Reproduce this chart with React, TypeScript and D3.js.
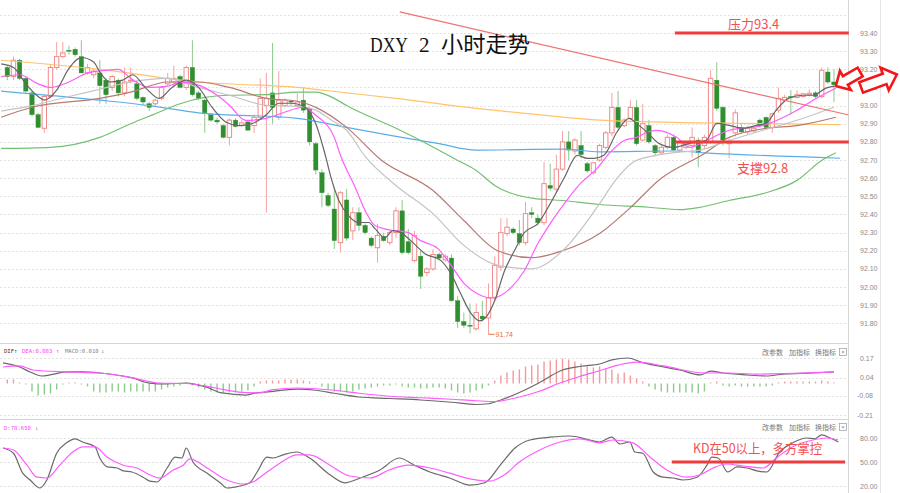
import React from "react";
import * as d3 from "d3";

// ---------- candle data (2h DXY) ----------
const openP = [93.21,93.16,93.25,93.15,93.07,92.95,92.875,93.05,93.21,93.27,93.305,93.31,93.27,93.18,93.17,93.18,93.14,93.10,93.14,93.07,93.135,93.12,93.045,93.01,93.01,93.04,93.12,93.13,93.16,93.10,93.21,93.07,93.03,92.95,92.92,92.89,92.825,92.92,92.89,92.91,92.89,92.935,93.00,93.07,92.935,93.00,93.025,93.00,93.03,92.985,92.79,92.63,92.505,92.43,92.245,92.48,92.31,92.41,92.34,92.27,92.217,92.28,92.245,92.30,92.42,92.25,92.146,92.17,92.08,92.10,92.18,92.15,92.16,91.925,91.81,91.79,91.77,91.84,91.83,91.94,92.11,92.295,92.32,92.295,92.245,92.41,92.38,92.355,92.56,92.54,92.65,92.80,92.75,92.78,92.68,92.63,92.70,92.77,92.85,92.99,92.89,92.93,92.99,92.81,92.89,92.78,92.74,92.77,92.825,92.755,92.77,92.78,92.81,92.78,92.80,93.14,92.99,92.79,92.85,92.88,92.855,92.86,92.92,92.935,92.88,92.975,93.03,93.05,93.045,93.05,93.06,93.07,93.05,93.185,93.13];
const highP = [93.22,93.27,93.26,93.16,93.08,92.96,93.06,93.23,93.35,93.35,93.33,93.32,93.36,93.23,93.20,93.25,93.15,93.17,93.15,93.21,93.21,93.14,93.05,93.02,93.04,93.11,93.18,93.22,93.17,93.22,93.36,93.08,93.04,92.96,92.935,92.90,92.93,92.93,92.92,92.92,92.95,93.15,93.18,93.345,93.19,93.04,93.03,93.07,93.10,92.99,92.80,92.65,92.52,92.55,92.53,92.54,92.44,92.44,92.35,92.28,92.35,92.30,92.31,92.44,92.48,92.32,92.31,92.20,92.11,92.21,92.19,92.18,92.18,91.95,91.86,91.91,91.91,91.925,92.02,92.17,92.38,92.38,92.33,92.37,92.47,92.44,92.40,92.69,92.68,92.73,92.86,92.86,92.82,92.86,92.69,92.69,92.79,92.86,93.07,93.08,92.93,93.03,93.03,93.01,92.92,92.79,92.78,92.84,92.84,92.81,92.80,92.88,92.825,92.84,93.195,93.24,93.00,92.82,92.98,92.90,92.89,92.88,92.93,92.94,92.96,93.10,93.06,93.085,93.085,93.07,93.09,93.08,93.21,93.21,93.20];
const lowP = [93.14,93.14,93.14,93.07,92.94,92.875,92.85,93.04,93.20,93.26,93.28,93.27,93.18,93.17,93.15,93.01,93.01,93.08,93.05,93.05,93.12,93.03,93.00,92.97,93.00,93.03,93.11,93.10,93.10,93.085,93.05,93.03,92.85,92.91,92.90,92.82,92.78,92.88,92.88,92.86,92.85,92.93,92.41,92.90,92.92,92.99,93.00,92.99,92.96,92.78,92.62,92.44,92.44,92.21,92.19,92.255,92.26,92.31,92.29,92.22,92.135,92.25,92.23,92.27,92.18,92.18,92.135,91.99,92.06,92.09,92.15,92.14,91.92,91.775,91.775,91.745,91.76,91.81,91.74,91.925,92.09,92.28,92.29,92.23,92.23,92.38,92.34,92.34,92.53,92.52,92.64,92.70,92.73,92.71,92.63,92.62,92.69,92.76,92.83,92.86,92.88,92.92,92.78,92.80,92.79,92.72,92.73,92.76,92.75,92.74,92.76,92.715,92.66,92.76,92.79,92.97,92.78,92.71,92.83,92.85,92.84,92.85,92.88,92.87,92.85,92.96,93.02,92.95,93.04,93.045,93.05,93.04,93.04,93.12,93.02];
const closeP = [93.16,93.25,93.15,93.08,92.95,92.88,93.05,93.21,93.27,93.29,93.30,93.28,93.18,93.21,93.19,93.11,93.06,93.16,93.07,93.13,93.14,93.04,93.02,92.99,93.03,93.10,93.15,93.15,93.10,93.21,93.06,93.04,92.96,92.92,92.91,92.825,92.92,92.885,92.905,92.865,92.935,93.04,93.04,92.99,93.03,93.03,93.02,93.02,92.975,92.80,92.645,92.52,92.45,92.256,92.52,92.27,92.41,92.34,92.30,92.23,92.284,92.256,92.30,92.42,92.19,92.19,92.284,92.06,92.10,92.18,92.16,92.17,91.925,91.81,91.79,91.785,91.86,91.825,91.94,92.12,92.30,92.33,92.30,92.245,92.405,92.40,92.355,92.57,92.545,92.65,92.80,92.755,92.81,92.73,92.64,92.685,92.78,92.85,92.99,92.88,92.92,92.99,92.79,92.90,92.80,92.74,92.77,92.825,92.755,92.80,92.79,92.825,92.74,92.825,93.15,92.985,92.81,92.80,92.96,92.855,92.875,92.875,92.89,92.88,92.955,93.04,93.045,93.045,93.06,93.065,93.068,93.05,93.195,93.13,93.115];

// ---------- moving averages, read at [candle index, price] ----------
const ma5: [number, number][] = [[-1,93.23],[1,93.21],[3,93.12],[5,93.05],[6,93.03],[8,93.085],[10,93.205],[12,93.265],[14,93.24],[15,93.185],[16.6,93.13],[18.7,93.14],[20.3,93.17],[22.5,93.095],[24.6,93.04],[26.7,93.1],[29,93.14],[31,93.1],[33.2,92.99],[35.4,92.91],[37.5,92.89],[39.6,92.9],[41.9,92.947],[44,93.013],[46,93.013],[48.3,92.99],[50,92.9],[51.6,92.72],[52.5,92.6],[53.7,92.48],[55.3,92.394],[56.9,92.356],[58.6,92.356],[59.6,92.322],[61.2,92.273],[62.5,92.311],[63.8,92.3],[65.4,92.256],[67.7,92.184],[70.3,92.146],[71.9,92.074],[73.5,91.963],[75.1,91.858],[76.6,91.814],[77.5,91.831],[79,91.925],[80.6,92.09],[82.2,92.2],[83.8,92.3],[86,92.35],[88,92.46],[90.3,92.604],[92.4,92.726],[94,92.709],[95.1,92.709],[96.7,92.726],[98.8,92.853],[100.8,92.93],[102,92.902],[103.7,92.853],[105.6,92.792],[108,92.77],[110.6,92.792],[113.3,92.809],[115,92.902],[117,92.891],[119.3,92.875],[121.4,92.891],[123,92.902],[124.6,92.974],[126.7,93.041],[129,93.057],[130.6,93.057],[132.7,93.096],[134,93.107]];
const ma10: [number, number][] = [[-1,93.16],[2,93.17],[5,93.12],[7,93.1],[10,93.13],[13,93.18],[16,93.195],[18,93.2],[20,93.15],[23,93.1],[26,93.107],[28,93.129],[31,93.113],[34,93.057],[36,93.002],[38.6,92.919],[42,92.93],[44.5,92.958],[48,92.991],[50,92.947],[53,92.825],[54,92.726],[56.4,92.549],[58,92.422],[59.6,92.339],[61.7,92.317],[65,92.3],[67,92.256],[69.8,92.212],[71.4,92.146],[74.1,92.018],[76.2,91.963],[78.3,91.941],[79.5,91.947],[81.6,91.996],[83.8,92.09],[86,92.24],[88,92.35],[90.3,92.46],[92.9,92.571],[95.6,92.654],[97.7,92.742],[100,92.808],[102,92.825],[103.7,92.853],[105.3,92.864],[108.5,92.825],[110.6,92.77],[113.3,92.808],[117,92.864],[122.5,92.891],[128,92.974],[130.6,93.03],[134.3,93.096]];
const ma20: [number, number][] = [[-1,92.97],[4,93.0],[10,93.05],[15,93.09],[20,93.13],[26,93.15],[31,93.1],[36,93.057],[42,93.002],[47,92.996],[50,92.975],[52.5,92.92],[55,92.864],[58,92.72],[63,92.56],[69,92.405],[74,92.23],[79.5,92.12],[85,92.1],[90,92.2],[96,92.46],[98.3,92.576],[102,92.698],[108.5,92.742],[112,92.753],[117,92.808],[122.5,92.864],[128,92.919],[134,92.991]];
const ma40: [number, number][] = [[-1,92.936],[4,92.991],[15,93.04],[20,93.074],[26,93.13],[31,93.13],[36,93.1],[42,93.04],[47,93.024],[50,92.99],[55,92.88],[60.6,92.7],[69,92.532],[74,92.367],[79.5,92.2],[85,92.162],[90,92.2],[96,92.295],[101,92.438],[106,92.6],[111,92.698],[112,92.715],[117,92.825],[123,92.875],[128,92.89],[134.3,92.936]];
const ma60: [number, number][] = [[-1,92.764],[7,92.77],[15,92.825],[20,92.9],[24,92.955],[28,93.01],[32,93.045],[36,93.057],[42,93.06],[47,93.074],[50,93.074],[53,93.04],[55,93.0],[63,92.875],[68,92.79],[73,92.698],[76,92.643],[79,92.56],[85,92.49],[90,92.477],[96,92.455],[104,92.44],[109,92.427],[112,92.438],[117,92.477],[123,92.52],[128,92.588],[132,92.698],[134.3,92.74]];
const ma120: [number, number][] = [[-1,93.08],[15,93.03],[23,93.0],[31,92.96],[47,92.93],[55,92.88],[63,92.83],[70,92.79],[76,92.755],[90,92.76],[96,92.745],[108,92.75],[113,92.74],[135,92.71]];
const ma250: [number, number][] = [[-1,93.25],[15,93.2],[31,93.13],[47,93.1],[55,93.07],[63,93.04],[76,92.985],[86,92.95],[96,92.92],[112,92.905],[135,92.895]];

const trendLine: [number, number][] = [[63.6, 93.516], [136.4, 92.948]];
const resistanceLevel = 93.4;
const supportLevel = 92.8;
const levelSpan = [108.2, 136.4];
const lowIndex = 78;
const lowValue = 91.74;

const priceTicks = [91.8, 91.9, 92.0, 92.1, 92.2, 92.3, 92.4, 92.5, 92.6, 92.7, 92.8, 92.9, 93.0, 93.1, 93.2, 93.3, 93.4];

// ---------- MACD ----------
const macdTicks = [0.17, 0.04, -0.08, -0.21];
const macdHist = [0.027,0.027,0.007,-0.007,-0.053,-0.08,-0.073,-0.067,-0.04,-0.007,0.007,0.007,-0.007,-0.02,-0.053,-0.06,-0.06,-0.053,-0.053,-0.06,-0.053,-0.053,-0.053,-0.053,-0.053,-0.04,-0.027,-0.02,-0.013,0.007,-0.013,-0.027,-0.04,-0.053,-0.06,-0.06,-0.06,-0.06,-0.053,-0.047,-0.02,0.013,0.02,0.02,0.02,0.027,0.027,0.027,0.02,0.013,0,-0.02,-0.04,-0.053,-0.053,-0.06,-0.053,-0.04,-0.033,-0.027,-0.02,-0.013,-0.013,-0.007,-0.02,-0.027,-0.027,-0.033,-0.033,-0.027,-0.027,-0.033,-0.047,-0.06,-0.067,-0.06,-0.047,-0.033,-0.013,0.02,0.053,0.073,0.087,0.093,0.113,0.12,0.127,0.147,0.153,0.16,0.167,0.16,0.147,0.133,0.113,0.107,0.113,0.1,0.093,0.067,0.073,0.053,0.033,0.013,-0.02,-0.04,-0.053,-0.06,-0.06,-0.06,-0.06,-0.06,-0.067,-0.053,0.007,0.013,-0.013,-0.02,-0.013,-0.02,-0.02,-0.02,-0.02,-0.02,-0.013,0.007,0.013,0.013,0.013,0.013,0.013,0.013,0.02,0.013,0.007];
const difLine: [number, number][] = [[-0.7,0.137],[2,0.11],[3.7,0.077],[5.6,0.05],[6.9,0.057],[9.6,0.077],[12.2,0.077],[15,0.07],[20.3,0.037],[23,0.003],[25.8,-0.003],[29,0.003],[32.2,-0.023],[34.8,-0.063],[38.7,-0.077],[40.3,-0.063],[41.9,-0.057],[47,-0.037],[50,-0.045],[53,-0.065],[57,-0.09],[62,-0.1],[67,-0.11],[72,-0.125],[76,-0.14],[78,-0.135],[80,-0.11],[83,-0.06],[86,0.0],[90,0.09],[93,0.115],[96,0.13],[98,0.157],[100.6,0.17],[102.7,0.143],[105.5,0.117],[109,0.09],[112.3,0.057],[114,0.083],[116,0.07],[119.8,0.057],[123,0.05],[125.8,0.063],[130.6,0.07],[134,0.077]];
const deaLine: [number, number][] = [[-0.7,0.11],[2,0.117],[4.2,0.09],[9.6,0.077],[15,0.07],[20.3,0.037],[24.6,0.003],[29,0],[33.8,-0.03],[37.5,-0.057],[40.8,-0.063],[42.9,-0.043],[47,-0.03],[50,-0.035],[53,-0.045],[57,-0.065],[62,-0.085],[67,-0.095],[72,-0.105],[76,-0.115],[79,-0.12],[82,-0.1],[86,-0.055],[90,0.01],[93,0.05],[96,0.085],[99,0.123],[102,0.143],[106.4,0.117],[113,0.07],[117,0.07],[121.4,0.063],[134,0.077]];

// ---------- KD ----------
const kdTicks = [80, 50, 20];
const kdLevel = 50;
const kdSpan = [107.7, 135.8];
const kLine: [number, number][] = [[-0.7,67.5],[1,61],[2.5,36],[3.7,27.5],[5.3,17.5],[6.4,27.5],[8,61],[9.6,74],[11,79],[12.2,75],[14.2,69],[15,55],[16.2,44],[17.8,42.5],[18.8,39],[20.2,37.5],[22,31],[23.1,26],[24.3,25],[25.9,42.5],[27.2,56],[28.3,55],[29,67.5],[30.1,50],[32.4,36],[34.5,24],[35.6,17.5],[37.7,20],[39.3,24],[40.5,37.5],[42.1,56],[43.1,55],[44.7,59],[46.9,62.5],[49,55],[52.3,34],[54.7,24],[57.2,30],[60.4,40],[63.5,55],[66,46],[68.5,37.5],[71.7,30],[75,21],[77.4,24],[79.9,46],[82.3,67.5],[84.7,77.5],[88,81],[91.2,82.5],[94.4,77.5],[96,75],[98,81],[99.3,72.5],[100.9,75],[101.7,62.5],[103,61],[104.7,37.5],[106.3,31],[107.9,30],[109.5,27.5],[111.8,31],[113.4,46],[114.2,56],[115.2,55],[116.8,37.5],[118.3,44],[119.9,42.5],[121.5,39],[123.1,37.5],[125.2,62.5],[127.3,74],[129.6,80],[130.9,79],[132,84],[133.4,80],[134.7,75]];
const dLine: [number, number][] = [[-0.7,67.5],[1,65],[3.2,46],[4.8,31],[6.4,30],[8.5,46],[10.6,62.5],[12.2,69],[14.2,69],[16.2,56],[18.8,46],[21,42.5],[23.1,34],[24.7,30],[26.9,40],[28.5,46],[29.6,54],[32.4,42.5],[35.6,27.5],[38.2,22.5],[39.8,25],[42.1,37.5],[44.7,51],[46.9,59],[49,59],[52.3,46],[55.5,32.5],[58.8,30],[61.9,40],[65,46],[68.5,42.5],[71.7,36],[75,29],[78.2,26],[80.6,34],[83,50],[86.3,65],[89.6,75],[92.8,79],[96,74],[98.2,77.5],[101.4,74],[104.2,56],[106.9,40],[110.2,31],[112.3,34],[114.4,42.5],[116.6,47.5],[119.2,45],[122.5,42.5],[124.8,56],[127.3,69],[130.6,77.5],[132.8,80],[134.7,77.5]];

const RED = "#f03c3c";

function BlockArrow({ cx, cy, angle, len, sh, hh, hl }: { cx: number; cy: number; angle: number; len: number; sh: number; hh: number; hl: number }) {
  const pts = [
    [-len / 2, -sh], [len / 2 - hl, -sh], [len / 2 - hl, -hh], [len / 2, 0],
    [len / 2 - hl, hh], [len / 2 - hl, sh], [-len / 2, sh],
  ].map((p) => p.join(",")).join(" ");
  return (
    <polygon points={pts} transform={`translate(${cx},${cy}) rotate(${angle})`} fill="#fff" stroke="#f01818" strokeWidth={2.6} strokeLinejoin="miter" />
  );
}

export default function App() {
  const n = closeP.length;
  const PR = 848.5;
  const x = d3.scaleLinear().domain([0, n - 1]).range([7.3, 834]);
  const yP = d3.scaleLinear().domain([91.8, 93.4]).range([323.4, 33]);
  const yM = d3.scaleLinear().domain([-0.21, 0.17]).range([415, 358]);
  const yK = d3.scaleLinear().domain([20, 80]).range([486, 438]);

  const mk = (y: d3.ScaleLinear<number, number>) =>
    d3.line<[number, number]>().x((d) => x(d[0])).y((d) => y(d[1])).curve(d3.curveMonotoneX);
  const lP = mk(yP), lM = mk(yM), lK = mk(yK);

  const axisFont = "'Liberation Sans', Arial, sans-serif";
  const cjk = "'Noto Sans CJK SC', 'Noto Sans', sans-serif";

  const maList: [[number, number][], string, number][] = [
    [ma250, "#ffc46a", 1.2], [ma120, "#5aaee8", 1.2], [ma60, "#72c072", 1.2],
    [ma40, "#b77a74", 1.2], [ma20, "#c4c4c4", 1.2], [ma10, "#ff5cff", 1.2], [ma5, "#666", 1.2],
  ];

  const buttons = (yb: number) => (
    <g fontFamily={cjk} fontSize={7} fill="#777">
      <text x={762} y={yb}>改参数</text>
      <text x={789} y={yb}>加指标</text>
      <text x={815} y={yb}>换指标</text>
      <rect x={839.5} y={yb - 6.5} width={7} height={7} fill="#fff" stroke="#999" strokeWidth={0.7} />
      <text x={843} y={yb - 0.8} fontSize={6} textAnchor="middle" fill="#888" fontFamily={axisFont}>×</text>
    </g>
  );

  return (
    <svg width={900} height={493} style={{ position: "absolute", left: 0, top: 0, background: "#fff" }}>
      <defs>
        <clipPath id="mainClip"><rect x={0} y={0} width={PR} height={340} /></clipPath>
        <clipPath id="macdClip"><rect x={0} y={344} width={PR} height={75} /></clipPath>
        <clipPath id="kdClip"><rect x={0} y={420} width={PR} height={73} /></clipPath>
      </defs>
      <rect x={0} y={0} width={900} height={493} fill="#fff" />

      {/* grid */}
      <g stroke="#e2e2e2" strokeDasharray="2,2" strokeWidth={1}>
        {priceTicks.map((t) => <line key={t} x1={0} x2={PR} y1={Math.round(yP(t)) + 0.5} y2={Math.round(yP(t)) + 0.5} />)}
        <line x1={0} x2={PR} y1={15.5} y2={15.5} />
        {macdTicks.map((t) => <line key={t} x1={0} x2={PR} y1={Math.round(yM(t)) + 0.5} y2={Math.round(yM(t)) + 0.5} />)}
        {kdTicks.map((t) => <line key={t} x1={0} x2={PR} y1={Math.round(yK(t)) + 0.5} y2={Math.round(yK(t)) + 0.5} />)}
      </g>
      <g stroke="#d6d6d6" strokeWidth={1}>
        <line x1={0} x2={PR} y1={343.5} y2={343.5} />
        <line x1={0} x2={PR} y1={419.5} y2={419.5} />
        <line x1={PR} x2={PR} y1={0} y2={493} />
        <line x1={880.5} x2={880.5} y1={0} y2={493} stroke="#e4e4e4" />
      </g>

      {/* axis labels */}
      <g fontFamily={axisFont} fontSize={7} fill="#8a8a8a">
        {priceTicks.map((t) => <text key={t} x={860} y={yP(t) + 2.5}>{t.toFixed(2)}</text>)}
        {macdTicks.map((t) => <text key={t} x={t < 0 ? 857 : 860} y={yM(t) + 2.5}>{t.toFixed(2)}</text>)}
        {kdTicks.map((t) => <text key={t} x={860} y={yK(t) + 2.5}>{t.toFixed(2)}</text>)}
      </g>

      {/* main panel */}
      <g clipPath="url(#mainClip)">
        {closeP.map((c, i) => {
          const o = openP[i];
          const up = c >= o;
          const cx = x(i);
          const top = yP(Math.max(o, c));
          const h = Math.max(1, yP(Math.min(o, c)) - top);
          return (
            <g key={i}>
              <line x1={cx} x2={cx} y1={yP(highP[i])} y2={yP(lowP[i])} stroke={up ? "#f4a4a4" : "#8cc98c"} strokeWidth={1} />
              <rect x={cx - 2.2} y={top} width={4.4} height={h} fill={up ? "#fff" : "#2f8f2f"} stroke={up ? "#ef8a8a" : "#2f8f2f"} strokeWidth={up ? 1 : 0.4} />
            </g>
          );
        })}
        {maList.map(([d, col, w], k) => (
          <path key={k} d={lP(d) || ""} fill="none" stroke={col} strokeWidth={w} />
        ))}
        <path d={d3.line<[number, number]>().x((d) => x(d[0])).y((d) => yP(d[1]))(trendLine) || ""} stroke="#f07272" strokeWidth={1.2} fill="none" />
      </g>

      {/* support / resistance */}
      <line x1={x(levelSpan[0])} x2={x(levelSpan[1])} y1={yP(resistanceLevel)} y2={yP(resistanceLevel)} stroke={RED} strokeWidth={3} />
      <line x1={x(levelSpan[0])} x2={x(levelSpan[1])} y1={yP(supportLevel)} y2={yP(supportLevel)} stroke={RED} strokeWidth={3} />
      <text x={728} y={28.5} fontFamily={cjk} fontSize={13} fill="#f25050">压力93.4</text>
      <text x={737} y={173} fontFamily={cjk} fontSize={13} fill="#f25050">支撑92.8</text>

      {/* low marker */}
      <line x1={x(lowIndex)} x2={x(lowIndex) + 6} y1={yP(lowValue)} y2={yP(lowValue)} stroke="#ea6a3c" strokeWidth={1} />
      <text x={x(lowIndex) + 7} y={yP(lowValue) + 3} fontFamily={axisFont} fontSize={7} fill="#ea6a3c">{lowValue.toFixed(2)}</text>

      {/* title */}
      <g fontFamily="'Liberation Serif', 'DejaVu Serif', serif" fontSize={21} fill="#111">
        <text x={370} y={52} textLength={38} lengthAdjust="spacingAndGlyphs">DXY</text>
        <text x={419} y={52}>2</text>
      </g>
      <text x={441} y={52} fontFamily="'Noto Sans CJK SC', serif" fontSize={22} fill="#111" textLength={89} lengthAdjust="spacingAndGlyphs">小时走势</text>

      {/* arrows */}
      <BlockArrow cx={848} cy={79} angle={150} len={28} sh={5} hh={11} hl={11} />
      <BlockArrow cx={879} cy={81} angle={-20} len={38} sh={5.5} hh={12} hl={13} />

      {/* MACD panel */}
      <g clipPath="url(#macdClip)">
        {macdHist.map((v, i) => (
          <line key={i} x1={x(i)} x2={x(i)} y1={yM(0)} y2={yM(v) + (v === 0 ? 0.5 : 0)} stroke={v >= 0 ? "#f39a9a" : "#8ccb8c"} strokeWidth={1.4} />
        ))}
        <path d={lM(difLine) || ""} fill="none" stroke="#6a6a6a" strokeWidth={1.2} />
        <path d={lM(deaLine) || ""} fill="none" stroke="#ff5cff" strokeWidth={1.2} />
      </g>
      <g fontFamily="'DejaVu Sans Mono', monospace" fontSize={5.6}>
        <text x={4} y={353} fill="#333">DIF</text>
        <text x={14} y={353} fill="#333">↑</text>
        <text x={22} y={353} fill="#ff3cff">DEA:0.083</text>
        <text x={56} y={353} fill="#ff3cff">↑</text>
        <text x={65} y={353} fill="#888">MACD:0.010</text>
        <text x={101} y={353} fill="#888">↓</text>
      </g>
      {buttons(355)}

      {/* KD panel */}
      <g clipPath="url(#kdClip)">
        <path d={lK(kLine) || ""} fill="none" stroke="#6a6a6a" strokeWidth={1.2} />
        <path d={lK(dLine) || ""} fill="none" stroke="#ff5cff" strokeWidth={1.2} />
      </g>
      <g fontFamily="'DejaVu Sans Mono', monospace" fontSize={5.6} fill="#ff3cff">
        <text x={4} y={430}>D:78.650</text>
        <text x={35} y={430}>↓</text>
      </g>
      {buttons(430)}
      <line x1={x(kdSpan[0])} x2={x(kdSpan[1])} y1={yK(kdLevel)} y2={yK(kdLevel)} stroke={RED} strokeWidth={3} />
      <text x={693} y={453} fontFamily={cjk} fontSize={13} fill="#f25050" textLength={129} lengthAdjust="spacingAndGlyphs">KD在50以上，多方掌控</text>
    </svg>
  );
}
